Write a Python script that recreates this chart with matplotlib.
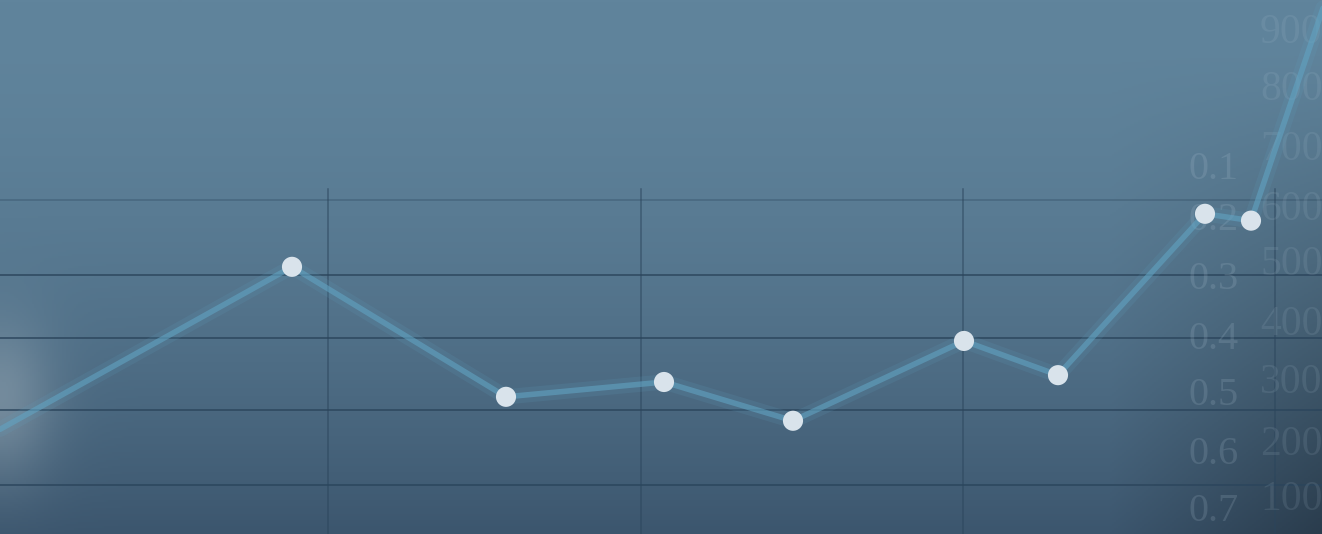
import numpy as np
import matplotlib.pyplot as plt

# series (x = position, y = value on the 0.1-0.7 scale, inverted)
x_pos = [0, 292, 506, 664, 793, 964, 1058, 1205, 1251, 1330]
values = [0.555, 0.270, 0.498, 0.472, 0.540, 0.400, 0.460, 0.177, 0.189, -0.22]
marker_idx = [1, 2, 3, 4, 5, 6, 7, 8]

# background grid positions
grid_y = [0.153, 0.284, 0.395, 0.521, 0.653]
grid_alpha = [0.3, 0.75, 0.75, 0.75, 0.75]
grid_x = [328, 641, 963, 1275]

left_labels = ['0.1', '0.2', '0.3', '0.4', '0.5', '0.6', '0.7']
left_label_y = [0.100, 0.188, 0.292, 0.398, 0.495, 0.600, 0.700]
right_labels = ['900', '800', '700', '600', '500', '400', '300', '200', '100']
right_label_y = [-0.140, -0.040, 0.065, 0.170, 0.267, 0.372, 0.474, 0.582, 0.678]

fig = plt.figure(figsize=(13.22, 5.34), dpi=100)
ax = fig.add_axes([0, 0, 1, 1])
ax.set_xlim(0, 1322)
ax.set_ylim(0.7386, -0.198)
ax.axis('off')

# background: blue-grey gradient, darker towards the bottom and right
h, w = 267, 661
yy, xx = np.mgrid[0:1:h * 1j, 0:1:w * 1j]
top = np.array([96, 132, 156]) / 255
bottom = np.array([60, 86, 110]) / 255
t = yy[..., None] ** 1.8
img = top * (1 - t) + bottom * t
dark = np.clip((xx - 0.84) / 0.16, 0, 1) * np.clip((yy - 0.1) / 0.9, 0, 1)
img = img * (1 - 0.3 * dark[..., None])
# pale blurred shape at lower left
blob = np.exp(-(((xx - 0.0) / 0.04) ** 2 + ((yy - 0.75) / 0.15) ** 2))
img = img * (1 - 0.45 * blob[..., None]) + np.array([165, 180, 190]) / 255 * 0.45 * blob[..., None]
ax.imshow(img, extent=[0, 1, 0, 1], transform=ax.transAxes, aspect='auto', zorder=0)

grid_c = (0.17, 0.27, 0.36)
for gy, ga in zip(grid_y, grid_alpha):
    ax.axhline(gy, color=grid_c, lw=1.4, alpha=ga, zorder=1)
for gx in grid_x:
    ax.plot([gx, gx], [grid_y[0] - 0.02, 0.75], color=grid_c, lw=1.1, alpha=0.6, zorder=1)

for lab, ly in zip(left_labels, left_label_y):
    ax.text(1214, ly, lab, fontsize=29, family='Liberation Serif', color=(0.72, 0.8, 0.86),
            alpha=0.17, ha='center', va='center', zorder=2)
for lab, ly in zip(right_labels, right_label_y):
    ax.text(1260, ly, lab, fontsize=30, family='Liberation Serif', color=(0.72, 0.8, 0.86),
            alpha=0.12, ha='left', va='center', zorder=2)

line_c = (0.38, 0.64, 0.76)
ax.plot(x_pos, values, color=line_c, lw=11, alpha=0.14, solid_capstyle='round', zorder=3)
ax.plot(x_pos, values, color=line_c, lw=4, alpha=0.6, solid_capstyle='round', zorder=3)
ax.scatter([x_pos[i] for i in marker_idx], [values[i] for i in marker_idx], s=210,
           color=(0.85, 0.89, 0.92), edgecolor='none', zorder=4)

fig.savefig('out.png', dpi=100)
